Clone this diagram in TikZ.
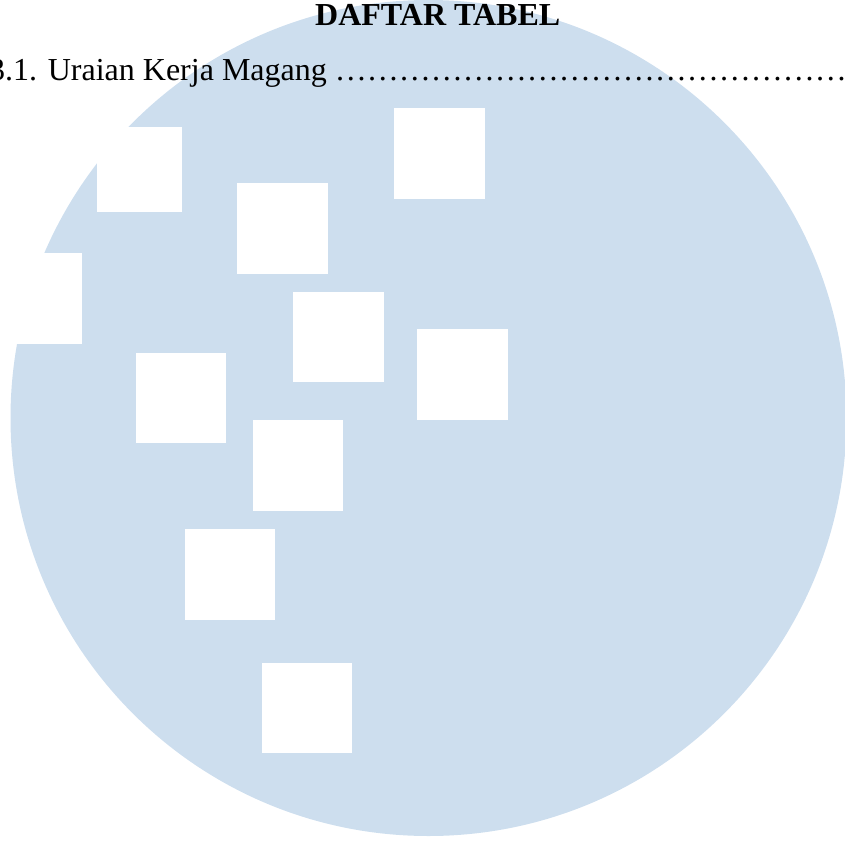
\documentclass[tikz,border=0pt]{standalone}
\usepackage{fontspec}
\setmainfont{Liberation Serif}
\definecolor{wm}{HTML}{CDDEEE}
\tikzset{
  px/.style={x=1pt,y=-1pt},
  hole/.style={fill=white,draw=none},
  txt/.style={inner sep=0pt,anchor=base west,font=\fontsize{32}{38}\selectfont,text=black}
}
\begin{document}
\begin{tikzpicture}[px]
\useasboundingbox (0,0) rectangle (845,840);
\clip (0,0) rectangle (845,840);
\fill[wm] (428.5,418) circle [radius=418pt];
\fill[hole] (97,127) rectangle (182,212);
\fill[hole] (-8,253) rectangle (82,344);
\fill[hole] (394,108) rectangle (485,199);
\fill[hole] (237,183) rectangle (328,274);
\fill[hole] (293,292) rectangle (384,382);
\fill[hole] (417,329) rectangle (508,420);
\fill[hole] (136,353) rectangle (226,443);
\fill[hole] (253,420) rectangle (343,511);
\fill[hole] (185,529) rectangle (275,620);
\fill[hole] (262,663) rectangle (352,753);
\node[txt,font=\fontsize{32}{38}\selectfont\bfseries] (title) at (315,26) {DAFTAR TABEL};
\node[txt] (row) at (-11,81) {3.1. Uraian Kerja Magang ………………………………………………};
\end{tikzpicture}
\end{document}
